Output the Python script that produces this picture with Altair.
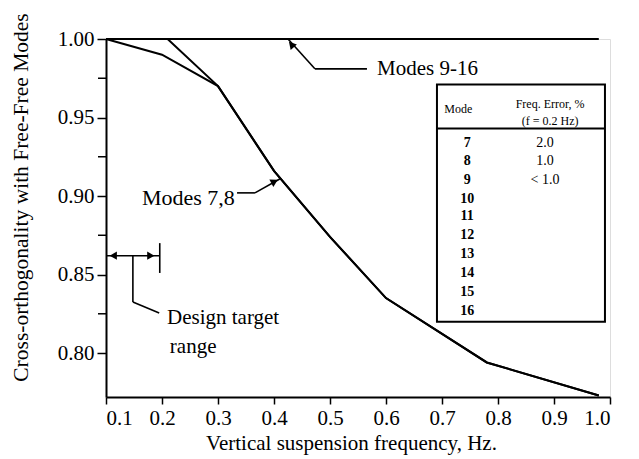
import altair as alt
import pandas as pd

# ---- data ----
freq_m7 = [0.1, 0.2, 0.3, 0.4, 0.5, 0.6, 0.78, 0.98]
orth_m7 = [1.0, 0.99, 0.97, 0.916, 0.874, 0.835, 0.794, 0.773]
freq_m8 = [0.1, 0.21, 0.3, 0.4, 0.5, 0.6, 0.78, 0.98]
orth_m8 = [1.0, 1.0, 0.97, 0.916, 0.874, 0.835, 0.794, 0.773]
freq_m916 = [0.1, 0.98]
orth_m916 = [1.0, 1.0]

x_ticks = [0.1, 0.2, 0.3, 0.4, 0.5, 0.6, 0.7, 0.8, 0.9, 1.0]
y_ticks = [0.80, 0.85, 0.90, 0.95, 1.00]
y_minor = [0.825, 0.875, 0.925, 0.975]

table_modes = ["7", "8", "9", "10", "11", "12", "13", "14", "15", "16"]
table_errors = ["2.0", "1.0", "< 1.0", "", "", "", "", "", "", ""]
table_row_y = [0.934, 0.922, 0.910, 0.898, 0.887, 0.875, 0.863, 0.851, 0.839, 0.827]

FONT = "Liberation Serif"

curves = pd.concat([
    pd.DataFrame({"f": freq_m7, "c": orth_m7, "s": "Mode 7"}),
    pd.DataFrame({"f": freq_m8, "c": orth_m8, "s": "Mode 8"}),
    pd.DataFrame({"f": freq_m916, "c": orth_m916, "s": "Modes 9-16"}),
])

xs = alt.Scale(domain=[0.1, 1.0], nice=False, zero=False)
ys = alt.Scale(domain=[0.772, 1.0], nice=False, zero=False)

X = alt.X("f:Q", scale=xs, axis=alt.Axis(
    values=x_ticks, format=".1f", grid=False, title="Vertical suspension frequency, Hz.",
    labelFont=FONT, labelFontSize=21, titleFont=FONT, titleFontSize=21,
    titleFontWeight="normal", labelColor="black", titleColor="black",
    domainColor="black", domainWidth=2, tickColor="black", tickWidth=1.5,
    tickSize=7, labelPadding=3, titlePadding=4, titleX=245))
Y = alt.Y("c:Q", scale=ys, axis=alt.Axis(
    values=y_ticks, format=".2f", grid=False,
    title="Cross-orthogonality with Free-Free Modes",
    labelFont=FONT, labelFontSize=21, titleFont=FONT, titleFontSize=21.5,
    titleFontWeight="normal", labelColor="black", titleColor="black",
    domainColor="black", domainWidth=2, tickColor="black", tickWidth=1.5,
    tickSize=9, labelPadding=3, titleX=-74, titleY=158))

lines = alt.Chart(curves).mark_line(color="black", strokeWidth=2).encode(
    x=X, y=Y, detail="s:N")

minor = alt.Chart(pd.DataFrame({"c": y_minor})).mark_rule(
    color="black", strokeWidth=1.5).encode(
    y=alt.Y("c:Q", scale=ys), x=alt.value(-8), x2=alt.value(0))

# leader / annotation segments (data space)
seg = pd.DataFrame({
    "f": [0.425, 0.473, 0.334, 0.366, 0.1, 0.196, 0.148, 0.148, 0.884],
    "c": [1.0, 0.981, 0.902, 0.902, 0.862, 0.870, 0.862, 0.8325, 0.904],
    "f2": [0.473, 0.566, 0.366, 0.411, 0.196, 0.196, 0.148, 0.195, 0.884],
    "c2": [0.981, 0.981, 0.902, 0.911, 0.862, 0.851, 0.8325, 0.8255, 0.829],
})
segs = alt.Chart(seg).mark_rule(color="black", strokeWidth=1.6).encode(
    x=alt.X("f:Q", scale=xs), y=alt.Y("c:Q", scale=ys), x2="f2:Q", y2="c2:Q")

heads = pd.DataFrame({
    "f": [0.431, 0.401, 0.113, 0.180, 0.884],
    "c": [0.9965, 0.9092, 0.862, 0.862, 0.8315],
    "a": [228, 332, 180, 0, 90],
})
arrows = alt.Chart(heads).mark_point(
    shape="triangle-right", filled=True, color="black", size=70, opacity=1).encode(
    x=alt.X("f:Q", scale=xs), y=alt.Y("c:Q", scale=ys), angle=alt.Angle("a:Q", scale=None))

labels = pd.DataFrame({
    "f": [0.584, 0.330, 0.209, 0.214],
    "c": [0.981, 0.899, 0.822, 0.804],
    "t": ["Modes 9-16", "Modes 7,8", "Design target", "range"],
    "al": ["left", "right", "left", "left"],
})
lab_left = alt.Chart(labels[labels.al == "left"]).mark_text(
    font=FONT, fontSize=21, align="left", baseline="middle", color="black").encode(
    x=alt.X("f:Q", scale=xs), y=alt.Y("c:Q", scale=ys), text="t:N")
lab_right = alt.Chart(labels[labels.al == "right"]).mark_text(
    font=FONT, fontSize=22, align="right", baseline="middle", color="black").encode(
    x=alt.X("f:Q", scale=xs), y=alt.Y("c:Q", scale=ys), text="t:N")

# inset table
box = alt.Chart(pd.DataFrame({"f": [0.691], "c": [0.820], "f2": [0.991], "c2": [0.971]})).mark_rect(
    fill="white", stroke="black", strokeWidth=2).encode(
    x=alt.X("f:Q", scale=xs), y=alt.Y("c:Q", scale=ys), x2="f2:Q", y2="c2:Q")
sep = alt.Chart(pd.DataFrame({"f": [0.691], "f2": [0.991], "c": [0.943]})).mark_rule(
    color="black", strokeWidth=2).encode(
    x=alt.X("f:Q", scale=xs), x2="f2:Q", y=alt.Y("c:Q", scale=ys))

head = pd.DataFrame({
    "f": [0.729, 0.893, 0.893],
    "c": [0.9555, 0.9585, 0.9475],
    "t": ["Mode", "Freq. Error, %", "(f  = 0.2 Hz)"],
})
head_txt = alt.Chart(head).mark_text(font=FONT, fontSize=12, baseline="middle", color="black").encode(
    x=alt.X("f:Q", scale=xs), y=alt.Y("c:Q", scale=ys), text="t:N")

rows = pd.DataFrame({"m": table_modes, "e": table_errors, "c": table_row_y})
mode_txt = alt.Chart(rows).transform_calculate(f="0.745").mark_text(
    font=FONT, fontSize=14, fontWeight="bold", baseline="middle", color="black").encode(
    x=alt.X("f:Q", scale=xs), y=alt.Y("c:Q", scale=ys), text="m:N")
err_txt = alt.Chart(rows).transform_calculate(f="0.884").mark_text(
    font=FONT, fontSize=14, baseline="middle", color="black").encode(
    x=alt.X("f:Q", scale=xs), y=alt.Y("c:Q", scale=ys), text="e:N")

chart = alt.layer(
    lines, minor, segs, arrows, lab_left, lab_right, box, sep, head_txt, mode_txt, err_txt
).properties(
    width=504, height=358,
    autosize=alt.AutoSizeParams(type="none"),
    padding={"left": 98, "top": 31, "right": 20, "bottom": 62},
).configure_view(stroke=None).configure(background="white")

chart.save("out.html", embed_options={"renderer": "svg", "actions": False})
